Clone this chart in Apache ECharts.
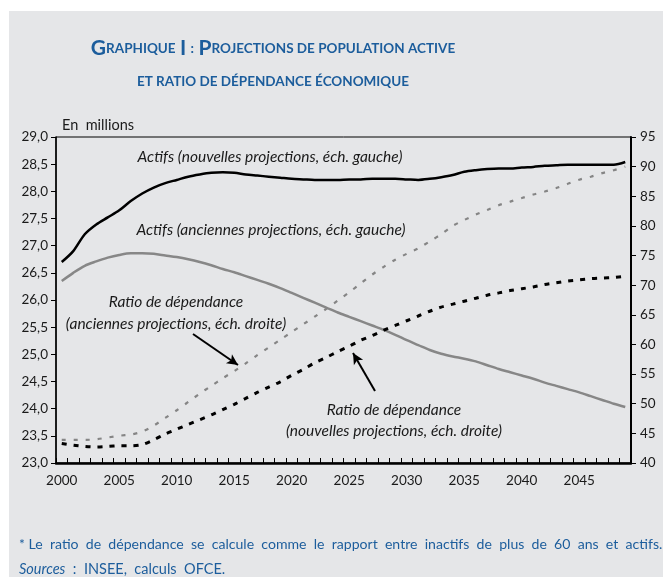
<!DOCTYPE html>
<html>
<head>
<meta charset="utf-8">
<script src="https://cdn.jsdelivr.net/npm/echarts@6/dist/echarts.min.js"></script>
<style>
	html, body { margin: 0; padding: 0; background: #fff; }
</style>
</head>
<body>
<div id="chart" style="width: 663px; height: 577px"></div>

<script>
	// années 2000 -> 2049
	const years = [];
	for (let y = 2000; y <= 2049; y++) years.push(String(y));

	// actifs, en millions (échelle gauche)
	const actifsNouv = [26.70, 26.90, 27.21, 27.39, 27.52, 27.65, 27.82, 27.96, 28.07, 28.15,
		28.21, 28.27, 28.31, 28.34, 28.35, 28.34, 28.31, 28.29, 28.27, 28.25,
		28.23, 28.22, 28.21, 28.21, 28.21, 28.22, 28.22, 28.23, 28.23, 28.23,
		28.22, 28.21, 28.23, 28.26, 28.30, 28.36, 28.39, 28.41, 28.42, 28.42,
		28.44, 28.45, 28.47, 28.48, 28.49, 28.49, 28.49, 28.49, 28.49, 28.54];
	const actifsAnc = [26.35, 26.50, 26.63, 26.71, 26.78, 26.83, 26.86, 26.86, 26.85, 26.82,
		26.79, 26.75, 26.70, 26.64, 26.57, 26.51, 26.44, 26.37, 26.30, 26.22,
		26.13, 26.04, 25.95, 25.86, 25.77, 25.69, 25.61, 25.53, 25.45, 25.36,
		25.26, 25.17, 25.08, 25.01, 24.96, 24.92, 24.87, 24.80, 24.73, 24.67,
		24.61, 24.55, 24.48, 24.42, 24.36, 24.30, 24.23, 24.16, 24.09, 24.03];

	// ratio de dépendance (échelle droite)
	const ratioAnc = [43.9, 43.9, 43.9, 44.0, 44.3, 44.6, 44.8, 45.3, 46.3, 47.6,
		48.9, 50.3, 51.7, 53.0, 54.3, 55.5, 56.8, 58.2, 59.5, 60.8,
		62.1, 63.4, 64.7, 66.0, 67.4, 68.8, 70.3, 71.8, 73.1, 74.3,
		75.3, 76.2, 77.4, 78.6, 80.0, 81.0, 81.9, 82.7, 83.5, 84.1,
		84.7, 85.3, 85.8, 86.4, 87.1, 87.8, 88.3, 88.9, 89.4, 90.0];
	const ratioNouv = [43.3, 43.0, 42.8, 42.7, 42.8, 42.9, 42.9, 43.1, 43.9, 44.9,
		45.7, 46.5, 47.3, 48.1, 49.0, 49.9, 50.9, 51.9, 52.8, 53.7,
		54.8, 55.8, 56.9, 57.8, 58.8, 59.7, 60.7, 61.5, 62.4, 63.2,
		64.0, 64.8, 65.6, 66.3, 66.8, 67.3, 67.8, 68.3, 68.7, 69.1,
		69.4, 69.7, 70.1, 70.4, 70.7, 70.9, 71.1, 71.2, 71.3, 71.5];

	const blue = '#1c5d9c';
	const ink = '#1a1a1a';
	const panel = '#e5e6e8';
	const font = 'Lato';

	var chart = echarts.init(document.getElementById('chart'));

	function note(x, y, text) {
		return {
			type: 'text', x: x, y: y, silent: true,
			style: { text: text, fill: ink, font: 'italic 15.5px ' + font, textAlign: 'center', textVerticalAlign: 'middle' }
		};
	}

	var option = {
		animation: false,
		backgroundColor: '#fff',
		textStyle: { fontFamily: font },
		title: [{
			left: 268, top: 33, textAlign: 'center',
			text: '{b|G}{s|RAPHIQUE} {b|I} {s|:} {b|P}{s|ROJECTIONS DE POPULATION ACTIVE}',
			textStyle: { rich: {
				b: { fontSize: 21, fontWeight: 'bold', color: blue, fontFamily: font },
				s: { fontSize: 13.5, fontWeight: 'bold', color: blue, fontFamily: font }
			} }
		}, {
			left: 268, top: 70, textAlign: 'center',
			text: 'ET RATIO DE DÉPENDANCE ÉCONOMIQUE',
			textStyle: { fontSize: 13.5, fontWeight: 'bold', color: blue, fontFamily: font }
		}, {
			left: 57, top: 113,
			text: 'En  millions',
			textStyle: { fontSize: 14.5, fontWeight: 'normal', color: ink, fontFamily: font }
		}, {
			left: 14, top: 532,
			text: '* Le  ratio  de  dépendance  se  calcule  comme  le  rapport  entre  inactifs  de  plus  de  60  ans  et  actifs.',
			textStyle: { fontSize: 14.1, fontWeight: 'normal', color: blue, fontFamily: font }
		}, {
			left: 14, top: 557,
			text: '{i|Sources}  :  INSEE,  calculs  OFCE.',
			textStyle: { fontSize: 14.5, fontWeight: 'normal', color: blue, fontFamily: font,
				rich: { i: { fontSize: 14.5, fontStyle: 'italic', color: blue, fontFamily: font } } }
		}],
		graphic: [
			{ type: 'rect', z: -10, silent: true, shape: { x: 9, y: 11, width: 660, height: 570 }, style: { fill: panel } },
			note(270, 157, 'Actifs (nouvelles projections, éch. gauche)'),
			note(271, 230, 'Actifs (anciennes projections, éch. gauche)'),
			note(176, 302, 'Ratio de dépendance'),
			note(176, 324, '(anciennes projections, éch. droite)'),
			note(394, 410, 'Ratio de dépendance'),
			note(394, 431, '(nouvelles projections, éch. droite)')
		],
		grid: {
			left: 56, right: 32, top: 137, bottom: 114,
			show: true, borderColor: '#000', borderWidth: 1, backgroundColor: 'transparent'
		},
		xAxis: [{
			type: 'category',
			data: years,
			boundaryGap: true,
			axisLine: { lineStyle: { color: '#000', width: 2.5 } },
			axisTick: { show: true, inside: true, interval: 0, length: 5, lineStyle: { color: '#000', width: 1 } },
			axisLabel: { interval: 4, margin: 11, color: ink, fontSize: 13.5, fontFamily: font },
			splitLine: { show: false }
		}],
		yAxis: [{
			type: 'value',
			min: 23, max: 29, interval: 0.5,
			axisLine: { show: true, lineStyle: { color: '#000', width: 1.5 } },
			axisTick: { show: true, length: 5, lineStyle: { color: '#000' } },
			axisLabel: { margin: 8, color: ink, fontSize: 13.5, fontFamily: font,
				formatter: function (v) { return v.toFixed(1).replace('.', ','); } },
			splitLine: { show: false }
		}, {
			type: 'value',
			position: 'right',
			min: 40, max: 95, interval: 5,
			axisLine: { show: true, lineStyle: { color: '#000', width: 2 } },
			axisTick: { show: true, length: 5, lineStyle: { color: '#000' } },
			axisLabel: { margin: 9, color: ink, fontSize: 13.5, fontFamily: font },
			splitLine: { show: false }
		}],
		series: [{
			name: 'Actifs (nouvelles projections)',
			type: 'line', data: actifsNouv, yAxisIndex: 0,
			showSymbol: false, smooth: 0.3,
			lineStyle: { color: '#000', width: 2.5 }
		}, {
			name: 'Actifs (anciennes projections)',
			type: 'line', data: actifsAnc, yAxisIndex: 0,
			showSymbol: false, smooth: 0.3,
			lineStyle: { color: '#878787', width: 2.5 }
		}, {
			name: 'Ratio (anciennes projections)',
			type: 'line', data: ratioAnc, yAxisIndex: 1,
			showSymbol: false, smooth: 0.3,
			lineStyle: { color: '#858585', width: 2.2, type: [4, 8] }
		}, {
			name: 'Ratio (nouvelles projections)',
			type: 'line', data: ratioNouv, yAxisIndex: 1,
			showSymbol: false, smooth: 0.3,
			lineStyle: { color: '#000', width: 3, type: [5, 7] },
			markLine: {
				silent: true, animation: false,
				symbol: ['none', 'arrow'], symbolSize: [8, 11],
				label: { show: false },
				lineStyle: { color: '#000', width: 2, type: 'solid' },
				data: [
					[{ x: 193, y: 334 }, { x: 238, y: 365 }],
					[{ x: 375, y: 391 }, { x: 353, y: 353 }]
				]
			}
		}]
	};

	chart.setOption(option);
</script>
</body>
</html>
